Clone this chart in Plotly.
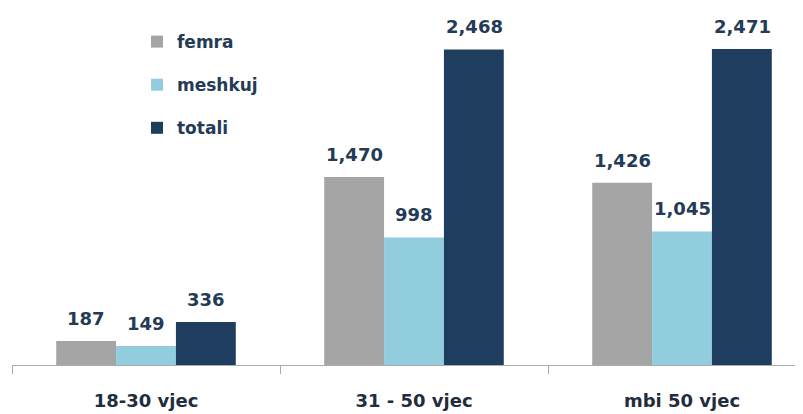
import plotly.graph_objects as go

categories = ["18-30 vjec", "31 - 50 vjec", "mbi 50 vjec"]
series_names = ["femra", "meshkuj", "totali"]
femra = [187, 1470, 1426]
meshkuj = [149, 998, 1045]
totali = [336, 2468, 2471]
colors = ["#a5a5a5", "#92cddd", "#1f3d5e"]

values = [femra, meshkuj, totali]
txt_color = "#243a55"
font_family = "DejaVu Sans"

fig = go.Figure()
for i, (name, vals) in enumerate(zip(series_names, values)):
    fig.add_trace(go.Bar(
        x=categories, y=vals, name=name, marker_color=colors[i],
        marker_line_width=0, legendgroup=name,
    ))

# value labels
bar_px = 60
for i, vals in enumerate(values):
    for c, v in zip(categories, vals):
        fig.add_annotation(
            x=c, y=v, text=f"{v:,}", showarrow=False, yanchor="bottom",
            xshift=(i - 1) * bar_px, yshift=10,
            font=dict(family=font_family, size=18, color=txt_color, weight="bold"),
        )

fig.update_layout(
    width=795, height=406,
    margin=dict(l=4, r=0, t=0, b=49),
    paper_bgcolor="white", plot_bgcolor="white",
    barmode="group", bargap=0.33, bargroupgap=0,
    showlegend=True,
    legend=dict(
        x=0.158, y=0.955, xanchor="left", yanchor="top",
        font=dict(family=font_family, size=17, color=txt_color, weight="bold"),
        tracegroupgap=18, bgcolor="rgba(0,0,0,0)",
    ),
    xaxis=dict(
        range=[-0.5, 2.4515], showline=True, linecolor="#aaaaaa", linewidth=1,
        ticks="outside", tickson="boundaries", ticklen=8, tickcolor="#aaaaaa",
        ticklabelstandoff=19, showgrid=False,
        tickfont=dict(family=font_family, size=18, color="#1f2d3d", weight="bold"),
    ),
    yaxis=dict(range=[0, 2792], visible=False, showgrid=False),
)

fig.write_html("out.html")
